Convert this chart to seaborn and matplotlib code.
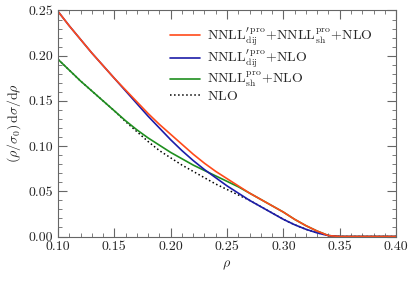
import matplotlib
matplotlib.use("Agg")
import matplotlib.pyplot as plt
from matplotlib.ticker import MultipleLocator
import seaborn as sns

# rho grid and curve values
rho = [0.10, 0.11, 0.12, 0.13, 0.14, 0.15, 0.16, 0.17, 0.18, 0.19, 0.20,
       0.21, 0.22, 0.23, 0.24, 0.25, 0.26, 0.27, 0.28, 0.29, 0.30,
       0.31, 0.32, 0.33, 0.34, 0.35, 0.36, 0.37, 0.38, 0.39, 0.40]

full = [0.249, 0.233, 0.218, 0.203, 0.189, 0.175, 0.162, 0.149, 0.136, 0.124, 0.113,
        0.102, 0.091, 0.081, 0.072, 0.064, 0.056, 0.048, 0.041, 0.034, 0.027,
        0.019, 0.012, 0.006, 0.001, 0.0, 0.0, 0.0, 0.0, 0.0, 0.0]

dij = [0.249, 0.233, 0.218, 0.203, 0.189, 0.175, 0.161, 0.147, 0.133, 0.120, 0.107,
       0.095, 0.084, 0.074, 0.065, 0.056, 0.048, 0.040, 0.033, 0.026, 0.019,
       0.013, 0.008, 0.004, 0.001, 0.0, 0.0, 0.0, 0.0, 0.0, 0.0]

sh = [0.196, 0.184, 0.172, 0.161, 0.150, 0.139, 0.128, 0.118, 0.109, 0.101, 0.093,
      0.086, 0.079, 0.073, 0.067, 0.061, 0.055, 0.048, 0.041, 0.034, 0.027,
      0.019, 0.012, 0.006, 0.001, 0.0, 0.0, 0.0, 0.0, 0.0, 0.0]

nlo = [0.196, 0.184, 0.172, 0.161, 0.150, 0.139, 0.127, 0.116, 0.105, 0.095, 0.087,
       0.079, 0.072, 0.065, 0.058, 0.052, 0.046, 0.040, 0.033, 0.026, 0.019,
       0.013, 0.008, 0.004, 0.001, 0.0, 0.0, 0.0, 0.0, 0.0, 0.0]

labels = [r"$\mathrm{NNLL}^{\prime\,\mathrm{pro}}_{\mathrm{dij}}\!+\!\mathrm{NNLL}^{\mathrm{pro}}_{\mathrm{sh}}\!+\!\mathrm{NLO}$",
          r"$\mathrm{NNLL}^{\prime\,\mathrm{pro}}_{\mathrm{dij}}\!+\!\mathrm{NLO}$",
          r"$\mathrm{NNLL}^{\mathrm{pro}}_{\mathrm{sh}}\!+\!\mathrm{NLO}$",
          r"$\mathrm{NLO}$"]

sns.set_style("ticks")
plt.rcParams["font.family"] = ["cmr10", "DejaVu Serif"]
plt.rcParams["mathtext.fontset"] = "cm"
plt.rcParams["axes.formatter.use_mathtext"] = True
plt.rcParams["font.size"] = 10

fig = plt.figure(figsize=(4.15, 2.83), dpi=100)
ax = fig.add_axes([0.1398, 0.1643, 0.8145, 0.7986])

# draw in back-to-front order
sns.lineplot(x=rho, y=nlo, ax=ax, color="black", linestyle=":", lw=1.1, label=labels[3])
sns.lineplot(x=rho, y=sh, ax=ax, color="#1f8f1f", lw=1.2, label=labels[2])
sns.lineplot(x=rho, y=dij, ax=ax, color="#1c1ca8", lw=1.2, label=labels[1])
sns.lineplot(x=rho, y=full, ax=ax, color="#ff4a1a", lw=1.2, label=labels[0])

ax.set_xlim(0.10, 0.40)
ax.set_ylim(0.0, 0.25)
ax.xaxis.set_major_locator(MultipleLocator(0.05))
ax.xaxis.set_minor_locator(MultipleLocator(0.01))
ax.yaxis.set_major_locator(MultipleLocator(0.05))
ax.yaxis.set_minor_locator(MultipleLocator(0.01))
ax.xaxis.set_major_formatter(plt.FuncFormatter(lambda v, p: f"{v:.2f}"))
ax.yaxis.set_major_formatter(plt.FuncFormatter(lambda v, p: f"{v:.2f}"))
ax.tick_params(which="both", direction="in", top=True, right=True, color="0.4", labelsize=10)
ax.tick_params(which="major", length=6.5, width=0.8)
ax.tick_params(which="minor", length=3.2, width=0.6)
for s in ax.spines.values():
    s.set_color("0.4")
    s.set_linewidth(0.8)

ax.set_xlabel(r"$\rho$", fontsize=10)
ax.set_ylabel(r"$(\rho/\sigma_0)\,\mathrm{d}\sigma/\mathrm{d}\rho$", fontsize=10)

handles, labs = ax.get_legend_handles_labels()
order = [3, 2, 1, 0]
ax.legend([handles[i] for i in order], [labs[i] for i in order],
          loc="upper left", bbox_to_anchor=(0.331, 0.935), frameon=False,
          borderpad=0, borderaxespad=0, handlelength=2.2, handletextpad=0.5,
          labelspacing=0.02, fontsize=10)

fig.savefig("out.png", dpi=100)
